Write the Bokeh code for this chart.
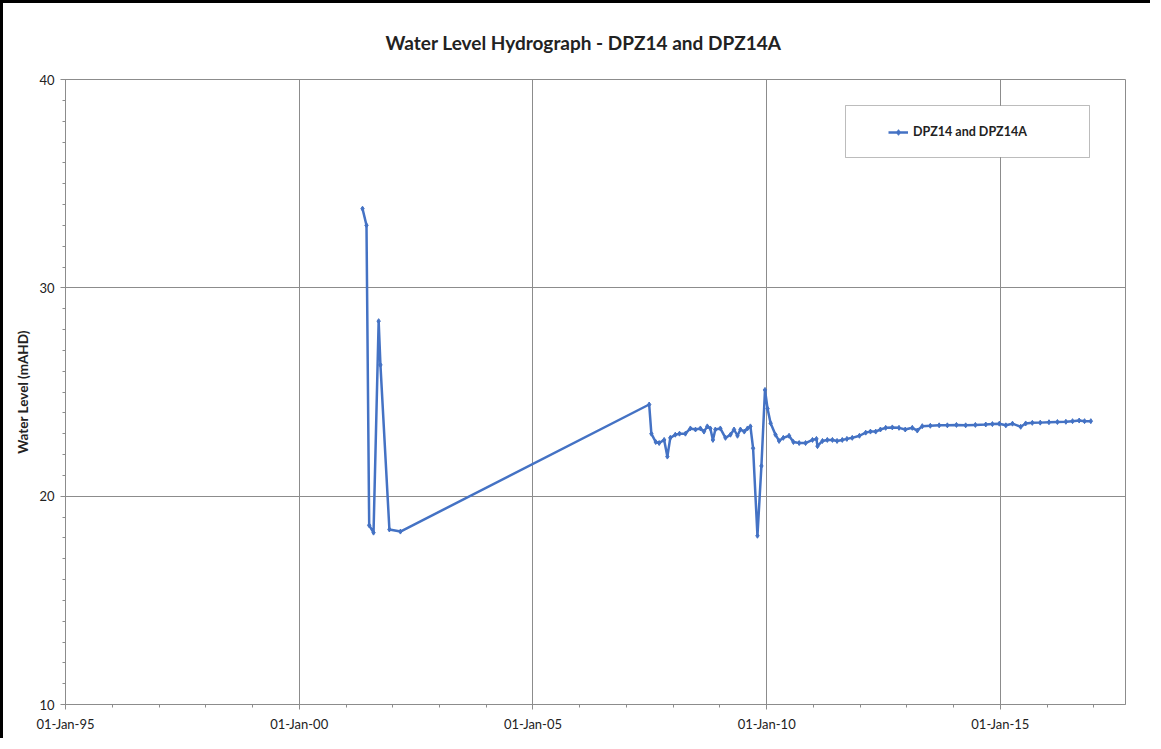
import pandas as pd
from bokeh.plotting import figure
from bokeh.models import (Range1d, FixedTicker, Legend, LegendItem, BoxAnnotation, Title)
from bokeh.embed import file_html
from bokeh.resources import INLINE

# ---------------- data ----------------
dates = [
    "2001-05-10", "2001-06-10", "2001-07-01", "2001-08-04", "2001-09-13", "2001-09-27",
    "2001-12-06", "2002-03-02",
    "2007-06-28", "2007-07-15", "2007-08-18", "2007-09-14", "2007-10-23", "2007-11-17",
    "2007-12-10", "2008-01-18", "2008-02-20", "2008-04-06", "2008-05-15", "2008-06-24",
    "2008-08-01", "2008-08-29", "2008-09-24", "2008-10-18", "2008-11-07", "2008-11-26",
    "2009-01-04", "2009-02-13", "2009-03-24", "2009-04-21", "2009-05-18", "2009-06-10",
    "2009-07-10", "2009-08-04", "2009-08-27", "2009-09-17", "2009-10-21", "2009-11-21",
    "2009-12-19", "2010-01-08", "2010-02-01", "2010-03-11", "2010-04-08", "2010-05-11",
    "2010-06-25", "2010-07-29", "2010-09-12", "2010-11-01", "2010-12-25", "2011-01-25",
    "2011-02-02", "2011-03-13", "2011-04-20", "2011-05-30", "2011-07-05", "2011-08-15",
    "2011-09-20", "2011-11-01", "2011-12-27", "2012-02-14", "2012-03-22", "2012-05-02",
    "2012-06-08", "2012-07-19", "2012-09-09", "2012-10-31", "2012-12-19", "2013-02-12",
    "2013-03-23", "2013-05-01", "2013-07-03", "2013-09-10", "2013-11-13", "2014-01-23",
    "2014-04-05", "2014-06-20", "2014-09-09", "2014-10-31", "2014-12-24", "2015-02-13",
    "2015-04-06", "2015-06-09", "2015-07-18", "2015-09-08", "2015-11-09", "2016-01-16",
    "2016-03-22", "2016-05-27", "2016-07-18", "2016-09-08", "2016-10-20", "2016-12-08",
]
levels = [
    33.8, 33.0, 18.6, 18.25, 28.4, 26.3,
    18.4, 18.3,
    24.4, 23.0, 22.6, 22.55, 22.7, 21.9,
    22.8, 22.95, 23.0, 23.0, 23.25, 23.2,
    23.25, 23.1, 23.35, 23.25, 22.7, 23.2,
    23.25, 22.8, 22.95, 23.2, 22.9, 23.2,
    23.1, 23.25, 23.35, 22.3, 18.1, 21.45,
    25.1, 24.2, 23.5, 22.95, 22.65, 22.8,
    22.9, 22.6, 22.55, 22.55, 22.7, 22.75,
    22.4, 22.65, 22.7, 22.7, 22.65, 22.7,
    22.75, 22.8, 22.9, 23.05, 23.1, 23.1,
    23.2, 23.28, 23.3, 23.28, 23.2, 23.28,
    23.15, 23.36, 23.38, 23.4, 23.4, 23.42,
    23.4, 23.42, 23.44, 23.46, 23.48, 23.4,
    23.48, 23.33, 23.49, 23.52, 23.53, 23.55,
    23.56, 23.57, 23.6, 23.63, 23.6, 23.6,
]

x_tick_dates = ["1995-01-01", "2000-01-01", "2005-01-01", "2010-01-01", "2015-01-01"]
x_tick_labels = ["01-Jan-95", "01-Jan-00", "01-Jan-05", "01-Jan-10", "01-Jan-15"]
x_minor_dates = [f"{y}-01-01" for y in range(1995, 2018)]
y_ticks = [10, 20, 30, 40]
y_minor = list(range(10, 41))
x_start, x_end = "1995-01-01", "2017-09-05"

title_text = "Water Level Hydrograph - DPZ14 and DPZ14A"
y_label = "Water Level (mAHD)"
series_name = "DPZ14 and DPZ14A"

# ---------------- helpers ----------------
def ms(d):
    return pd.Timestamp(d).value / 1e6

xs = [ms(d) for d in dates]
FONT = "Lato"
LINE_COLOR = "#4472C4"
GRID = "#8c8c8c"

p = figure(width=1150, height=738, x_axis_type="datetime",
           output_backend="svg", toolbar_location=None,
           x_range=Range1d(ms(x_start), ms(x_end)), y_range=Range1d(10, 40),
           min_border_left=62, min_border_right=28, min_border_top=75, min_border_bottom=37)

p.title = None
t = Title(text=title_text, align="left", text_font=FONT,
          text_font_size="19px", text_font_style="bold", text_color="#222222",
          standoff=51, offset=320)
p.add_layout(t, "above")

p.background_fill_color = "white"
p.border_fill_color = "white"
p.outline_line_color = GRID
p.outline_line_width = 1
p.styles = {"border-top": "3px solid black", "border-left": "3px solid black"}

# axes
p.xaxis.ticker = FixedTicker(ticks=[ms(d) for d in x_tick_dates],
                             minor_ticks=[ms(d) for d in x_minor_dates])
p.xaxis.major_label_overrides = {ms(d): lab for d, lab in zip(x_tick_dates, x_tick_labels)}
p.yaxis.ticker = FixedTicker(ticks=y_ticks, minor_ticks=y_minor)

for ax in (p.xaxis[0], p.yaxis[0]):
    ax.axis_line_color = GRID
    ax.major_tick_line_color = GRID
    ax.minor_tick_line_color = GRID
    ax.major_tick_in = 5
    ax.major_tick_out = 5
    ax.minor_tick_in = 0
    ax.minor_tick_out = 3
    ax.major_label_text_font = FONT
    ax.major_label_text_font_size = "13px"
    ax.major_label_text_color = "#222222"

p.xaxis.major_label_standoff = 6
p.yaxis.major_label_standoff = 6
p.yaxis.axis_label = y_label
p.yaxis.axis_label_text_font = FONT
p.yaxis.axis_label_text_font_size = "13.5px"
p.yaxis.axis_label_text_font_style = "bold"
p.yaxis.axis_label_text_color = "#222222"
p.yaxis.axis_label_standoff = 5

p.xgrid.ticker = p.xaxis.ticker
p.ygrid.ticker = p.yaxis.ticker
p.xgrid.grid_line_color = GRID
p.ygrid.grid_line_color = GRID
p.xgrid.grid_line_width = 1
p.ygrid.grid_line_width = 1

# data
ln = p.line(xs, levels, line_color=LINE_COLOR, line_width=2.5)
sc = p.scatter(xs, levels, marker="diamond", size=5, fill_color=LINE_COLOR,
               line_color=LINE_COLOR)

# legend box
box = BoxAnnotation(left=780, right=1024, top=599, bottom=547,
                    left_units="screen", right_units="screen",
                    top_units="screen", bottom_units="screen",
                    fill_color="white", fill_alpha=1.0,
                    line_color="#222222", line_width=1, level="annotation")
p.add_layout(box)

legend = Legend(items=[LegendItem(label=series_name, renderers=[ln, sc])],
                location=(823, 565), padding=0, margin=0,
                glyph_width=20, glyph_height=14, label_standoff=5,
                label_text_font=FONT, label_text_font_size="12.5px",
                label_text_font_style="bold", label_text_color="#222222",
                border_line_alpha=0, background_fill_alpha=0)
p.add_layout(legend)

open("out.html", "w").write(file_html(p, INLINE))
